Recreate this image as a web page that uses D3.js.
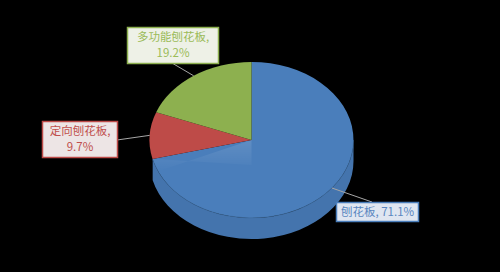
<!DOCTYPE html>
<html>
<head>
<meta charset="utf-8">
<script src="https://cdn.jsdelivr.net/npm/d3@7"></script>
<style>
  body { margin: 0; background: #000; }
  svg { display: block; }
</style>
</head>
<body>
<div id="chart"></div>
<script>
// data
var categories = ["刨花板", "定向刨花板", "多功能刨花板"];
var values = [71.1, 9.7, 19.2];
var labelLines = [["刨花板, 71.1%"], ["定向刨花板,", "9.7%"], ["多功能刨花板,", "19.2%"]];

var colors = ["#4a7ebb", "#be4b48", "#8db04f"];
var sideColors = ["#4474ad", "#a84341", "#7d9c45"];
var textColors = ["#5a86c0", "#c0504d", "#9bbb59"];
var boxFills = ["#dfe6f1", "#ede5e5", "#eef1e7"];

var width = 500, height = 272;
var cx = 251.5, cy = 140, rx = 102, ry = 78, depth = 21;
// visible part of the wall (the tilt hides a bit of the far left)
var wallStart = Math.PI / 2, wallEnd = 3 * Math.PI / 2 - 0.25;

var svg = d3.select("#chart").append("svg")
  .attr("width", width)
  .attr("height", height);

svg.append("rect").attr("width", width).attr("height", height).attr("fill", "#000");

var pie = d3.pie().sort(null).startAngle(0).endAngle(2 * Math.PI);
var arcs = pie(values);

function pt(a, dy) {
  return [cx + rx * Math.sin(a), cy - ry * Math.cos(a) + (dy || 0)];
}

function topPath(d) {
  var p0 = pt(d.startAngle), p1 = pt(d.endAngle);
  var large = (d.endAngle - d.startAngle) > Math.PI ? 1 : 0;
  return "M" + cx + "," + cy + "L" + p0 + "A" + rx + "," + ry + " 0 " + large + " 1 " + p1 + "Z";
}

function sidePath(d) {
  var s = Math.max(d.startAngle, wallStart), e = Math.min(d.endAngle, wallEnd);
  if (e <= s) return null;
  var a = pt(s), b = pt(e), c = pt(e, depth), f = pt(s, depth);
  return "M" + a + "A" + rx + "," + ry + " 0 0 1 " + b + "L" + c +
    "A" + rx + "," + ry + " 0 0 0 " + f + "Z";
}

// side walls
svg.selectAll("path.side")
  .data(arcs.filter(function (d) { return sidePath(d); }))
  .enter().append("path")
  .attr("class", "side")
  .attr("d", sidePath)
  .attr("fill", function (d) { return sideColors[d.index]; });

// top faces
svg.selectAll("path.top")
  .data(arcs)
  .enter().append("path")
  .attr("class", "top")
  .attr("d", topPath)
  .attr("fill", function (d) { return colors[d.index]; });

// edge of top face over the side
svg.append("path")
  .attr("d", "M" + pt(Math.PI / 2) + "A" + rx + "," + ry + " 0 0 1 " + pt(wallEnd))
  .attr("fill", "none")
  .attr("stroke", "#3a6494")
  .attr("stroke-width", 0.8)
  .attr("opacity", 0.7);

// soft bevel highlight
var defs = svg.append("defs");
var grad = defs.append("linearGradient").attr("id", "hl")
  .attr("x1", "0").attr("y1", "0").attr("x2", "0").attr("y2", "1");
grad.append("stop").attr("offset", "0").attr("stop-color", "#fff").attr("stop-opacity", 0.12);
grad.append("stop").attr("offset", "1").attr("stop-color", "#fff").attr("stop-opacity", 0);
svg.append("path")
  .attr("d", "M" + pt(4.3) + "L" + cx + "," + cy + "L" + cx + "," + (cy + 25) + "L" + pt(4.47, 0) + "Z")
  .attr("fill", "url(#hl)");

// labels
var labelBoxes = [
  { x: 336, y: 202, w: 82, h: 19, lx: 372, ly: 202 },
  { x: 42, y: 121, w: 75, h: 36, lx: 117, ly: 140 },
  { x: 127, y: 27, w: 91, h: 36, lx: 172, ly: 63 }
];

var lab = svg.selectAll("g.label")
  .data(arcs)
  .enter().append("g")
  .attr("class", "label");

lab.append("line")
  .attr("x1", function (d) { return pt((d.startAngle + d.endAngle) / 2)[0]; })
  .attr("y1", function (d) { return pt((d.startAngle + d.endAngle) / 2)[1]; })
  .attr("x2", function (d) { return labelBoxes[d.index].lx; })
  .attr("y2", function (d) { return labelBoxes[d.index].ly; })
  .attr("stroke", "#a6a6a6")
  .attr("stroke-width", 1);

lab.append("rect")
  .attr("x", function (d) { return labelBoxes[d.index].x + 0.5; })
  .attr("y", function (d) { return labelBoxes[d.index].y + 0.5; })
  .attr("width", function (d) { return labelBoxes[d.index].w; })
  .attr("height", function (d) { return labelBoxes[d.index].h; })
  .attr("fill", function (d) { return boxFills[d.index]; })
  .attr("stroke", function (d) { return colors[d.index]; })
  .attr("stroke-width", 1.5);

lab.each(function (d) {
  var b = labelBoxes[d.index], lines = labelLines[d.index];
  var t = d3.select(this).append("text")
    .attr("text-anchor", "middle")
    .attr("font-family", "'Noto Sans CJK SC', 'DejaVu Sans', sans-serif")
    .attr("font-size", 11.5)
    .attr("fill", textColors[d.index]);
  lines.forEach(function (s, i) {
    t.append("tspan")
      .attr("x", b.x + b.w / 2 + 0.5)
      .attr("y", b.y + b.h / 2 + 4 + (i - (lines.length - 1) / 2) * 16)
      .text(s);
  });
});
</script>
</body>
</html>
